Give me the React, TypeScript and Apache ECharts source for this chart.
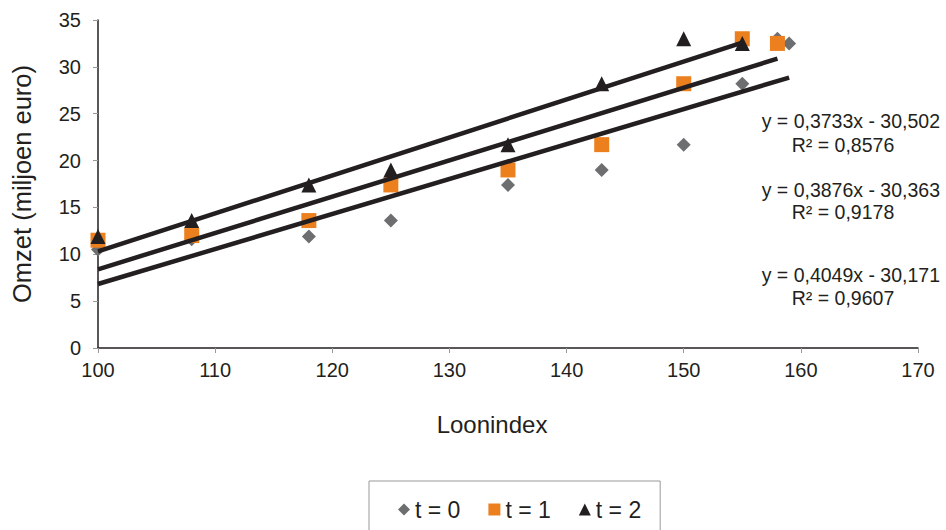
import React, { useEffect, useRef } from "react";
import * as echarts from "echarts";

const xT0 = [100, 108, 118, 125, 135, 143, 150, 155, 158, 159];
const yT0 = [10.5, 11.6, 11.9, 13.6, 17.4, 19.0, 21.7, 28.2, 33.0, 32.5];
const xT1 = [100, 108, 118, 125, 135, 143, 150, 155, 158];
const yT1 = [11.5, 12.0, 13.6, 17.4, 19.0, 21.7, 28.2, 33.0, 32.5];
const xT2 = [100, 108, 118, 125, 135, 143, 150, 155];
const yT2 = [11.9, 13.6, 17.4, 19.0, 21.7, 28.2, 33.0, 32.5];

const seriesNames = ["t = 0", "t = 1", "t = 2"];
const slopes = [0.3733, 0.3876, 0.4049];
const intercepts = [-30.502, -30.363, -30.171];
const eqLabels = [
  ["y = 0,3733x - 30,502", "R² = 0,8576"],
  ["y = 0,3876x - 30,363", "R² = 0,9178"],
  ["y = 0,4049x - 30,171", "R² = 0,9607"],
];

const FONT = "'Liberation Sans', Arial, sans-serif";
const TXT = "#231f20";

export default function App() {
  const ref = useRef<HTMLDivElement>(null);
  useEffect(() => {
    if (!ref.current) return;
    const chart = echarts.init(ref.current, null, { renderer: "svg" });
    const xs = [xT0, xT1, xT2];
    const ys = [yT0, yT1, yT2];
    const symbols = ["diamond", "rect", "triangle"];
    const colors = ["#6d6e70", "#ec801f", "#231f20"];
    const sizes = [14, 15, 15];
    const scatter = xs.map((xArr, i) => ({
      name: seriesNames[i],
      type: "scatter",
      symbol: symbols[i],
      symbolSize: sizes[i],
      itemStyle: { color: colors[i], opacity: 1 },
      data: xArr.map((x, j) => [x, ys[i][j]]),
      z: 2,
    }));
    const lines = xs.map((xArr, i) => {
      const x0 = Math.min(...xArr);
      const x1 = Math.max(...xArr);
      return {
        name: "trend" + i,
        type: "line",
        symbol: "none",
        lineStyle: { color: "#231f20", width: 4.5 },
        data: [
          [x0, slopes[i] * x0 + intercepts[i]],
          [x1, slopes[i] * x1 + intercepts[i]],
        ],
        z: 3,
        silent: true,
      };
    });
    const eqYs = [121, 190, 275];
    const r2Ys = [145, 212, 298];
    const graphics: any[] = [];
    eqLabels.forEach((pair, i) => {
      graphics.push({
        type: "text",
        x: 940,
        y: eqYs[i],
        style: { text: pair[0], font: `19.5px ${FONT}`, fill: TXT, textAlign: "right", textVerticalAlign: "middle" },
      });
      graphics.push({
        type: "text",
        x: 843,
        y: r2Ys[i],
        style: { text: pair[1], font: `19.5px ${FONT}`, fill: TXT, textAlign: "center", textVerticalAlign: "middle" },
      });
    });
    chart.setOption({
      animation: false,
      textStyle: { fontFamily: FONT },
      grid: { left: 98, right: 28, top: 20, bottom: 182, containLabel: false },
      xAxis: {
        type: "value",
        min: 100,
        max: 170,
        interval: 10,
        name: "Loonindex",
        nameLocation: "middle",
        nameGap: 64,
        nameTextStyle: { fontSize: 24, color: TXT, fontFamily: FONT, padding: [0, 32, 0, 0] },
        axisLine: { show: true, onZero: false, lineStyle: { color: "#231f20", width: 1.5 } },
        axisTick: { show: true, length: 5, lineStyle: { color: "#999" } },
        axisLabel: { fontSize: 20, color: TXT, margin: 12, fontFamily: FONT },
        splitLine: { show: false },
      },
      yAxis: {
        type: "value",
        min: 0,
        max: 35,
        interval: 5,
        name: "Omzet (miljoen euro)",
        nameLocation: "middle",
        nameGap: 63,
        nameTextStyle: { fontSize: 25.5, color: TXT, fontFamily: FONT },
        axisLine: { show: true, lineStyle: { color: "#231f20", width: 1.5 } },
        axisTick: { show: true, length: 5, lineStyle: { color: "#999" } },
        axisLabel: { fontSize: 20, color: TXT, margin: 17, fontFamily: FONT },
        splitLine: { show: false },
      },
      legend: {
        data: seriesNames,
        top: 481,
        left: 369,
        borderColor: "#999",
        borderWidth: 1,
        padding: [17, 19, 25, 29],
        itemGap: 28,
        itemWidth: 12,
        itemHeight: 12,
        itemStyle: { opacity: 1 },
        textStyle: { fontSize: 23, color: TXT, fontFamily: FONT },
      },
      series: [...scatter, ...lines],
      graphic: graphics,
    });
    return () => chart.dispose();
  }, []);
  return (
    <div
      ref={ref}
      style={{ position: "fixed", left: 0, top: 0, width: 946, height: 530, background: "#fff" }}
    />
  );
}
